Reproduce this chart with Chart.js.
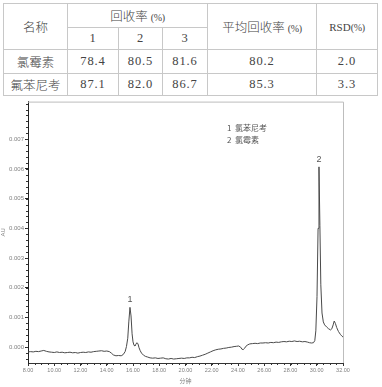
<!DOCTYPE html>
<html><head><meta charset="utf-8">
<script src="https://cdn.jsdelivr.net/npm/chart.js@4"></script>
<style>
html,body{margin:0;padding:0;background:#fff;width:382px;height:387px;overflow:hidden;}
#tbl{position:absolute;left:3px;top:3px;border-collapse:collapse;table-layout:fixed;font-family:"Liberation Serif","Noto Sans CJK SC Light","Noto Sans CJK SC",serif;font-weight:300;font-size:12.5px;color:#444;}
#tbl td{border:1px solid #c8c8c8;padding:0;text-align:center;vertical-align:middle;white-space:nowrap;overflow:hidden;}
#tbl .num{letter-spacing:0.9px;}
#tbl .pc{font-size:10px;letter-spacing:-0.3px;}
#tbl .rsd{font-size:11px;}
#wrap{position:absolute;left:0;top:97px;width:382px;height:290px;}
</style></head><body>
<table id="tbl"></table>
<div id="wrap"><canvas id="c" width="382" height="290"></canvas></div>
<script>
// ---- table data ----
const compoundNames = ['氯霉素', '氟苯尼考'];
const trialLabels = ['1', '2', '3'];
const recovery1 = [78.4, 87.1];
const recovery2 = [80.5, 82.0];
const recovery3 = [81.6, 86.7];
const meanRecovery = [80.2, 85.3];
const rsdValues = [2.0, 3.3];

// ---- chromatogram data ----
const retentionTimes = [
 8.0,8.2,8.4,8.6,8.8,9.0,9.2,9.4,9.6,9.8,10.0,10.2,10.4,10.6,10.8,11.0,11.2,11.4,11.6,11.8,
 12.0,12.2,12.4,12.6,12.8,13.0,13.2,13.4,13.6,13.8,14.0,14.2,14.35,14.5,14.7,14.9,15.1,15.25,15.4,15.5,
 15.6,15.68,15.77,15.85,15.93,16.0,16.08,16.15,16.22,16.3,16.38,16.46,16.55,16.65,16.8,16.95,17.1,17.3,17.5,17.7,
 17.9,18.1,18.3,18.5,18.7,18.9,19.1,19.3,19.5,19.7,19.9,20.1,20.3,20.5,20.7,20.9,21.1,21.3,21.5,21.7,
 21.9,22.1,22.3,22.5,22.7,22.9,23.1,23.3,23.5,23.7,23.9,24.05,24.2,24.3,24.4,24.5,24.6,24.75,24.9,25.1,
 25.3,25.5,25.7,25.9,26.1,26.3,26.5,26.7,26.9,27.1,27.3,27.5,27.7,27.9,28.1,28.3,28.5,28.7,28.9,29.1,
 29.3,29.45,29.6,29.75,29.85,29.93,30.02,30.1,30.17,30.24,30.31,30.4,30.5,30.6,30.75,30.9,31.05,31.15,31.25,31.33,
 31.42,31.52,31.65,31.8,31.9,32.0
];
const absorbance = [
 -0.00016,-0.00015,-0.00016,-0.00014,-0.00015,-0.00013,-0.00011,-0.00014,-0.00016,-0.00017,-0.00018,-0.00016,-0.00018,-0.00017,-0.00019,-0.00018,-0.00017,-0.00019,-0.00018,-0.00020,
 -0.00018,-0.00017,-0.00018,-0.00016,-0.00017,-0.00015,-0.00014,-0.00013,-0.00012,-0.00014,-0.00013,-0.00015,-0.00020,-0.00026,-0.00029,-0.00028,-0.00029,-0.00025,-0.00015,0.00002,
 0.00030,0.00085,0.00134,0.00105,0.00045,0.00018,0.00006,0.00004,0.00010,0.00015,0.00011,-0.00002,-0.00012,-0.00020,-0.00027,-0.00031,-0.00033,-0.00036,-0.00037,-0.00036,
 -0.00038,-0.00037,-0.00036,-0.00039,-0.00040,-0.00038,-0.00040,-0.00039,-0.00038,-0.00037,-0.00038,-0.00036,-0.00036,-0.00034,-0.00035,-0.00032,-0.00030,-0.00027,-0.00024,-0.00020,
 -0.00016,-0.00012,-0.00009,-0.00007,-0.00006,-0.00004,-0.00003,-0.00001,0.00000,0.00002,0.00003,0.00004,0.00000,-0.00007,-0.00008,-0.00004,0.00003,0.00008,0.00011,0.00012,
 0.00013,0.00012,0.00014,0.00014,0.00015,0.00014,0.00016,0.00015,0.00017,0.00016,0.00018,0.00019,0.00018,0.00020,0.00019,0.00021,0.00019,0.00020,0.00018,0.00019,
 0.00017,0.00015,0.00014,0.00015,0.00022,0.00055,0.00170,0.00400,0.00607,0.00410,0.00210,0.00115,0.00085,0.00075,0.00068,0.00062,0.00058,0.00062,0.00075,0.00088,
 0.00080,0.00066,0.00053,0.00043,0.00038,0.00034
];
const xTickValues = [8,10,12,14,16,18,20,22,24,26,28,30,32];
const yTickValues = [0,0.001,0.002,0.003,0.004,0.005,0.006,0.007];
const peakNumbers = ['1', '2'];
const peakTimes = [15.77, 30.17];
const legendEntries = ['1  氯苯尼考', '2  氯霉素'];

// ---- build table ----
(function(){
  const t = document.getElementById('tbl');
  const widths = [64,51,44,45,109,61];
  let h = '<colgroup>' + widths.map(w=>'<col style="width:'+w+'px">').join('') + '</colgroup>';
  h += '<tr style="height:24px"><td rowspan="2">名称</td><td colspan="3">回收率 <span class="pc">(%)</span></td><td rowspan="2">平均回收率 <span class="pc">(%)</span></td><td rowspan="2" class="rsd">RSD<span class="pc">(%)</span></td></tr>';
  h += '<tr style="height:22px">' + trialLabels.map(l=>'<td class="num">'+l+'</td>').join('') + '</tr>';
  const hts = [24,22];
  compoundNames.forEach((n,i)=>{
    h += '<tr style="height:'+hts[i]+'px"><td>'+n+'</td>' +
      [recovery1[i],recovery2[i],recovery3[i]].map(v=>'<td class="num">'+v.toFixed(1)+'</td>').join('') +
      '<td class="num">'+meanRecovery[i].toFixed(1)+'</td><td class="num">'+rsdValues[i].toFixed(1)+'</td></tr>';
  });
  t.innerHTML = h;
})();

// ---- decorations ----
const decor = {
  id: 'decor',
  afterDraw(chart) {
    const ctx = chart.ctx, ca = chart.chartArea, xs = chart.scales.x, ys = chart.scales.y;
    ctx.save();
    ctx.strokeStyle = '#bdbdbd'; ctx.lineWidth = 1;
    ctx.beginPath();
    ctx.moveTo(ca.left, ca.top + 0.5); ctx.lineTo(ca.right + 0.5, ca.top + 0.5);
    ctx.lineTo(ca.right + 0.5, ca.bottom);
    ctx.stroke();
    ctx.strokeStyle = '#333';
    ctx.beginPath();
    for (let v = -0.0004; v <= 0.0082; v += 0.0002) {
      const p = Math.round(ys.getPixelForValue(v)) + 0.5;
      ctx.moveTo(ca.left - 2, p); ctx.lineTo(ca.left, p);
    }
    for (let v = 8.5; v < 32; v += 0.5) {
      const p = Math.round(xs.getPixelForValue(v)) + 0.5;
      ctx.moveTo(p, ca.bottom); ctx.lineTo(p, ca.bottom + 2);
    }
    ctx.stroke();
    ctx.fillStyle = '#555';
    ctx.font = '9px "Liberation Sans", sans-serif';
    ctx.textAlign = 'center'; ctx.textBaseline = 'bottom';
    peakNumbers.forEach((lab, i) => {
      let best = 0;
      retentionTimes.forEach((t, j) => { if (Math.abs(t - peakTimes[i]) < Math.abs(retentionTimes[best] - peakTimes[i])) best = j; });
      const px = xs.getPixelForValue(retentionTimes[best]);
      const py = ys.getPixelForValue(absorbance[best]);
      ctx.fillText(lab, px, py - 3);
    });
    ctx.font = '8px "Noto Sans CJK SC", sans-serif';
    ctx.textAlign = 'left'; ctx.textBaseline = 'middle';
    legendEntries.forEach((s, i) => {
      ctx.fillText(s, ca.left + 199, ca.top + 26 + i * 12);
    });
    ctx.restore();
  }
};

new Chart(document.getElementById('c'), {
  type: 'line',
  data: {
    datasets: [{
      data: retentionTimes.map((t, i) => ({ x: t, y: absorbance[i] })),
      borderColor: '#4a4a4a', borderWidth: 1, pointRadius: 0, tension: 0, fill: false
    }]
  },
  options: {
    responsive: false, animation: false, devicePixelRatio: 1,
    layout: { padding: { top: 2, right: 39, left: 0, bottom: 0 } },
    plugins: { legend: { display: false }, tooltip: { enabled: false } },
    scales: {
      x: {
        type: 'linear', min: 8, max: 32,
        afterBuildTicks: s => { s.ticks = xTickValues.map(v => ({ value: v })); },
        afterFit: s => { s.height = 24; },
        ticks: { callback: v => Number(v).toFixed(2), font: { size: 5.5, family: 'Liberation Sans' }, color: '#808080', padding: 1, maxRotation: 0, autoSkip: false },
        grid: { drawOnChartArea: false, tickLength: 3, color: '#333' },
        border: { color: '#333' },
        title: { display: true, text: '分钟', font: { size: 6, family: 'Noto Sans CJK SC' }, color: '#808080', padding: { top: 0, bottom: 3 } }
      },
      y: {
        min: -0.000533, max: 0.008267,
        afterBuildTicks: s => { s.ticks = yTickValues.map(v => ({ value: v })); },
        afterFit: s => { s.width = 28; },
        ticks: { callback: v => Number(v).toFixed(3), font: { size: 6, family: 'Liberation Sans' }, color: '#808080', padding: 1, autoSkip: false },
        grid: { drawOnChartArea: false, tickLength: 3, color: '#222' },
        border: { color: '#222' },
        title: { display: true, text: 'AU', font: { size: 6, family: 'Liberation Sans' }, color: '#808080', padding: 0 }
      }
    }
  },
  plugins: [decor]
});
</script>
</body></html>
